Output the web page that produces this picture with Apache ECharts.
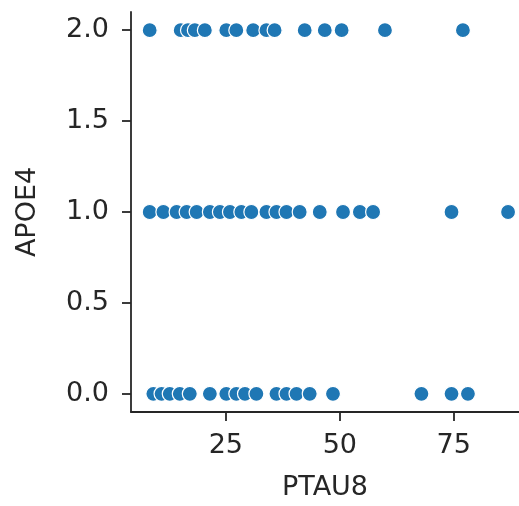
<!DOCTYPE html>
<html>
<head>
<meta charset="utf-8">
<script src="https://cdn.jsdelivr.net/npm/echarts@6/dist/echarts.min.js"></script>
<style>
  html, body { margin: 0; padding: 0; background: #ffffff; }
  #chart { width: 519px; height: 506px; }
</style>
</head>
<body>
<div id="chart"></div>
<script>
// PTAU8 readings grouped by APOE4 allele count
const ptauApoe0 = [9.1, 10.9, 12.7, 14.9, 17.1, 21.5, 25.1, 27.3, 29.2, 31.7, 36.1, 38.3, 40.5, 43.4, 48.5, 67.9, 74.5, 78.1];
const ptauApoe1 = [8.3, 11.3, 14.2, 16.4, 18.6, 21.5, 23.7, 25.9, 28.4, 30.6, 33.9, 36.1, 38.3, 41.2, 45.6, 50.7, 54.4, 57.3, 74.5, 86.9];
const ptauApoe2 = [8.3, 15.1, 16.7, 18.2, 20.4, 25.1, 27.3, 31.0, 33.9, 35.7, 42.3, 46.7, 50.4, 59.9, 77.0];
const apoeLevels = [0, 1, 2];
const xTicks = [25, 50, 75];
const yTicks = [0, 0.5, 1, 1.5, 2];

const groups = [ptauApoe0, ptauApoe1, ptauApoe2];
const points = [];
groups.forEach((vals, i) => vals.forEach(v => points.push([v, apoeLevels[i]])));

const textColor = '#262626';
const fontFamily = 'DejaVu Sans';
const fontSize = 27;

const chart = echarts.init(document.getElementById('chart'), null, { renderer: 'canvas' });
chart.setOption({
  animation: false,
  backgroundColor: '#ffffff',
  grid: { left: 131, right: 0, top: 12, bottom: 93, containLabel: false },
  xAxis: {
    type: 'value',
    min: 4.2,
    max: 89.3,
    name: 'PTAU8',
    nameLocation: 'middle',
    nameGap: 62,
    nameTextStyle: { color: textColor, fontSize, fontFamily },
    axisLine: { show: true, onZero: false, lineStyle: { color: textColor, width: 1.8 } },
    axisTick: { show: true, length: 9, customValues: xTicks, lineStyle: { color: textColor, width: 1.8 } },
    axisLabel: { customValues: xTicks, color: textColor, fontSize, fontFamily, margin: 20 },
    splitLine: { show: false }
  },
  yAxis: {
    type: 'value',
    min: -0.1,
    max: 2.1,
    name: 'APOE4',
    nameLocation: 'middle',
    nameRotate: 90,
    nameGap: 90,
    nameTextStyle: { color: textColor, fontSize, fontFamily },
    axisLine: { show: true, onZero: false, lineStyle: { color: textColor, width: 1.8 } },
    axisTick: { show: true, length: 9, customValues: yTicks, lineStyle: { color: textColor, width: 1.8 } },
    axisLabel: { customValues: yTicks, color: textColor, fontSize, fontFamily, margin: 22,
      formatter: v => v.toFixed(1) },
    splitLine: { show: false }
  },
  series: [{
    type: 'scatter',
    data: points,
    symbolSize: 15,
    itemStyle: { color: '#1f77b4', borderColor: '#ffffff', borderWidth: 1.2, opacity: 1 },
    emphasis: { disabled: true }
  }]
});
</script>
</body>
</html>
